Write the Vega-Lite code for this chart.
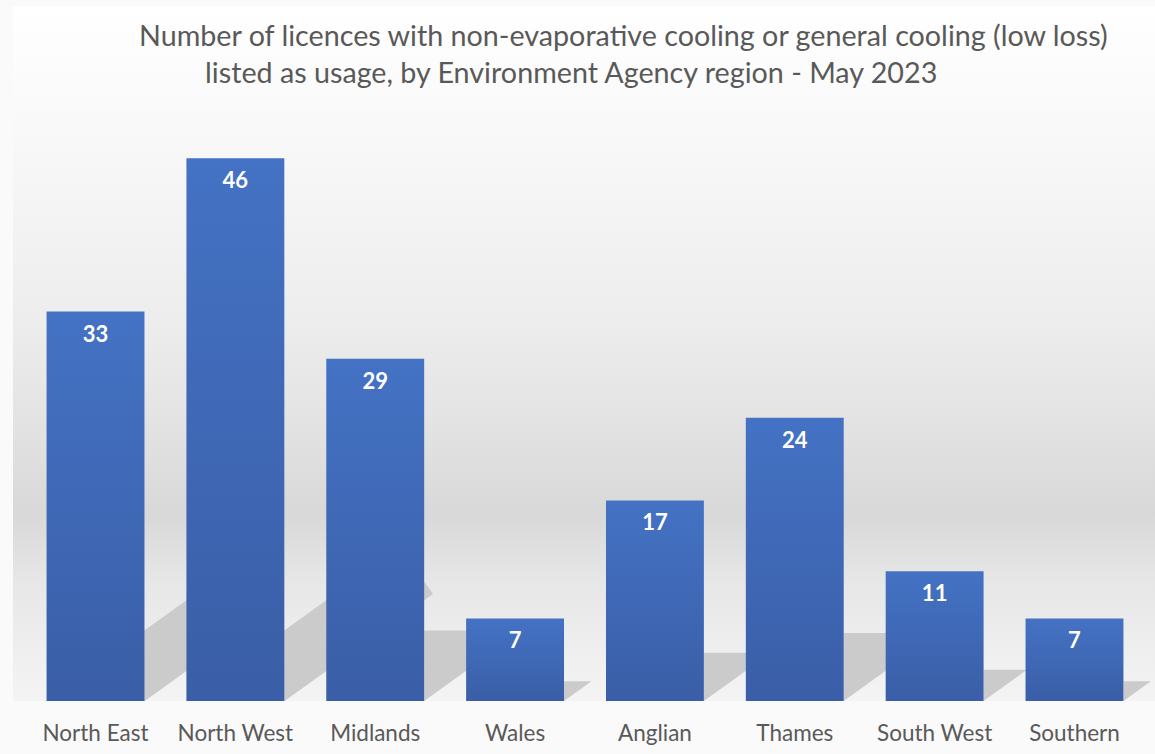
{
  "$schema": "https://vega.github.io/schema/vega-lite/v6.json",
  "width": 1144,
  "height": 695,
  "autosize": {"type": "none"},
  "padding": {"left": 13, "top": 6, "right": 0, "bottom": 53},
  "background": "#fafafa",
  "config": {
    "font": "Lato",
    "view": {
      "stroke": null,
      "fill": {
        "gradient": "linear",
        "x1": 0, "y1": 0, "x2": 0, "y2": 1,
        "stops": [
          {"offset": 0, "color": "#ffffff"},
          {"offset": 0.2, "color": "#f8f8f8"},
          {"offset": 0.45, "color": "#ededed"},
          {"offset": 0.6, "color": "#e3e3e3"},
          {"offset": 0.73, "color": "#d8d8d8"},
          {"offset": 0.83, "color": "#e7e7e7"},
          {"offset": 1, "color": "#f4f4f4"}
        ]
      }
    },
    "axisX": {
      "labelFont": "Lato",
      "labelFontSize": 22.5,
      "labelColor": "#595959",
      "labelAngle": 0,
      "labelBaseline": "middle",
      "labelPadding": 32,
      "ticks": false,
      "domain": false,
      "grid": false
    }
  },
  "title": {
    "text": [
      "Number of licences with non-evaporative cooling or general cooling (low loss)",
      "\u200b\u00a0\u00a0\u00a0\u00a0\u00a0\u00a0\u00a0\u00a0\u00a0listed as usage, by Environment Agency region - May 2023"
    ],
    "anchor": "start",
    "frame": "group",
    "dx": 126,
    "offset": -83,
    "baseline": "top",
    "font": "Lato",
    "fontSize": 28.7,
    "fontWeight": "normal",
    "color": "#595959",
    "lineHeight": 37
  },
  "data": {
    "values": [
      {"region": "North East", "value": 33},
      {"region": "North West", "value": 46},
      {"region": "Midlands", "value": 29},
      {"region": "Wales", "value": 7},
      {"region": "Anglian", "value": 17},
      {"region": "Thames", "value": 24},
      {"region": "South West", "value": 11},
      {"region": "Southern", "value": 7}
    ]
  },
  "layer": [
    {
      "mark": {
        "type": "point",
        "shape": "M0,0L0,-2L2.7778,-2Z",
        "filled": true,
        "fill": "#cbcbcb",
        "strokeWidth": 0,
        "opacity": 1
      },
      "encoding": {
        "x": {"field": "region", "type": "nominal", "sort": null, "title": null, "bandPosition": 1,
              "scale": {"paddingInner": 0.3, "paddingOuter": 0.24}},
        "y": {"value": "height"},
        "size": {"field": "value", "type": "quantitative", "legend": null,
                 "scale": {"type": "pow", "exponent": 2, "domain": [0, 24.93], "range": [0, 4984], "clamp": true}}
      }
    },
    {
      "transform": [{"filter": "datum.value > 30"}],
      "mark": {
        "type": "rule",
        "strokeWidth": 57.3,
        "strokeCap": "butt",
        "color": "#cbcbcb",
        "opacity": 1,
        "clip": true,
        "xOffset": {"expr": "(scale('y', 0) - scale('y', datum.value)) / 3"},
        "yOffset": {"expr": "0.76 * (scale('y', 0) - scale('y', datum.value))"}
      },
      "encoding": {
        "x": {"field": "region", "type": "nominal", "sort": null, "title": null, "bandPosition": 0.5},
        "x2": {"field": "region", "bandPosition": 0.5},
        "y": {"field": "value", "type": "quantitative", "axis": null},
        "y2": {"datum": 0}
      }
    },
    {
      "mark": {
        "type": "bar",
        "color": {
          "gradient": "linear",
          "x1": 0, "y1": 0, "x2": 0, "y2": 1,
          "stops": [
            {"offset": 0, "color": "#4472c4"},
            {"offset": 1, "color": "#3a5ea7"}
          ]
        }
      },
      "encoding": {
        "x": {"field": "region", "type": "nominal", "sort": null, "title": null},
        "y": {"field": "value", "type": "quantitative", "axis": null,
              "scale": {"domain": [0, 58.9], "nice": false}}
      }
    },
    {
      "mark": {
        "type": "text",
        "baseline": "middle",
        "dy": 23,
        "font": "Lato",
        "fontWeight": "bold",
        "fontSize": 22,
        "color": "#ffffff"
      },
      "encoding": {
        "x": {"field": "region", "type": "nominal", "sort": null, "title": null},
        "y": {"field": "value", "type": "quantitative", "axis": null},
        "text": {"field": "value", "type": "quantitative"}
      }
    }
  ]
}
